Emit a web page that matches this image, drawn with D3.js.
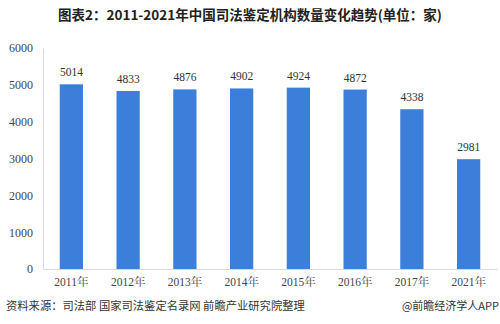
<!DOCTYPE html>
<html>
<head>
<meta charset="utf-8">
<script src="https://cdn.jsdelivr.net/npm/d3@7"></script>
<style>
  html, body { margin: 0; padding: 0; background: #fff; }
  svg { display: block; }
</style>
</head>
<body>
<svg id="chart" width="500" height="324"></svg>
<script>
// Number of judicial appraisal institutions in China, by year
const years = ["2011年", "2012年", "2013年", "2014年", "2015年", "2016年", "2017年", "2021年"];
const counts = [5014, 4833, 4876, 4902, 4924, 4872, 4338, 2981];
const yTicks = [0, 1000, 2000, 3000, 4000, 5000, 6000];

const svg = d3.select("#chart");
const serif = "'Liberation Serif', 'Times New Roman', 'Noto Serif CJK SC', 'Noto Sans CJK SC', serif";
const cjk = "'Noto Sans CJK SC', sans-serif";

const plot = { left: 43, right: 497, top: 48, bottom: 269 };

const x = d3.scaleBand().domain(years).range([plot.left, plot.right]).paddingInner(0.59).paddingOuter(0.295);
const y = d3.scaleLinear().domain([0, 6000]).range([plot.bottom, plot.top]);

// Title
svg.append("text")
  .attr("x", 250).attr("y", 20)
  .attr("text-anchor", "middle")
  .attr("font-family", cjk)
  .attr("font-weight", "bold")
  .attr("font-size", 13.5)
  .attr("fill", "#222")
  .text("图表2：2011-2021年中国司法鉴定机构数量变化趋势(单位：家)");

// Y axis
const yAxis = svg.append("g")
  .attr("transform", `translate(${plot.left},0)`)
  .call(d3.axisLeft(y).tickValues(yTicks).tickSize(0).tickPadding(10).tickFormat(d3.format("d")));
yAxis.select(".domain").attr("stroke", "#d9d9d9");
yAxis.selectAll("text")
  .attr("font-family", serif)
  .attr("font-size", 12)
  .attr("fill", "#444");

// X axis
const xAxis = svg.append("g")
  .attr("transform", `translate(0,${plot.bottom})`)
  .call(d3.axisBottom(x).tickSize(0).tickPadding(9));
xAxis.select(".domain").attr("stroke", "#d9d9d9");
xAxis.selectAll("text")
  .attr("font-family", serif)
  .attr("font-size", 11.5)
  .attr("fill", "#444");

// Bars
svg.append("g").selectAll("rect")
  .data(counts)
  .join("rect")
  .attr("x", (d, i) => x(years[i]))
  .attr("y", d => y(d))
  .attr("width", x.bandwidth())
  .attr("height", d => y(0) - y(d))
  .attr("fill", "#3c7fdb");

// Value labels
svg.append("g").selectAll("text")
  .data(counts)
  .join("text")
  .attr("x", (d, i) => x(years[i]) + x.bandwidth() / 2)
  .attr("y", d => y(d) - 8)
  .attr("text-anchor", "middle")
  .attr("font-family", serif)
  .attr("font-size", 11.5)
  .attr("fill", "#333")
  .text(d => d);

// Source line
svg.append("text")
  .attr("x", 6).attr("y", 310)
  .attr("font-family", cjk)
  .attr("font-size", 11.3)
  .attr("fill", "#333")
  .text("资料来源：司法部 国家司法鉴定名录网 前瞻产业研究院整理");

svg.append("text")
  .attr("x", 499).attr("y", 310)
  .attr("text-anchor", "end")
  .attr("font-family", cjk)
  .attr("font-size", 11)
  .attr("fill", "#333")
  .text("@前瞻经济学人APP");
</script>
</body>
</html>
